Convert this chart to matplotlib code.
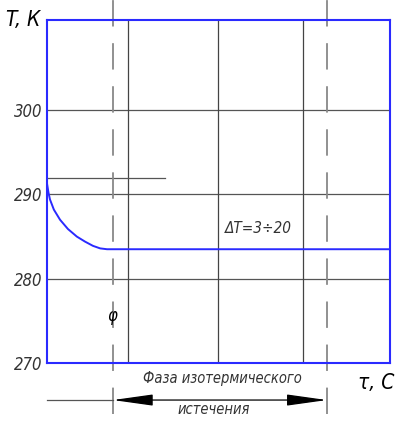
import matplotlib
matplotlib.use("Agg")
import matplotlib.pyplot as plt

# ----------------------------------------------------------------------
# Data (time axis in arbitrary units 0..100)
# ----------------------------------------------------------------------
curve_t = [0.0, 0.44, 0.87, 2.0, 3.8, 6.1, 8.7, 11.1, 13.4, 15.5, 17.5, 100.0]
curve_T = [291.3, 290.2, 289.4, 288.2, 287.0, 285.9, 285.0, 284.4, 283.9, 283.6, 283.5, 283.5]

grid_T = [280, 290, 300]
yticks = [270, 280, 290, 300]
solid_t = [23.6, 49.9, 74.6]
dashed_t = [19.2, 81.6]
short_T = 292.0
short_t_end = 34.4

BLUE = "#2a2aff"
GRAY = "#555555"

plt.rcParams["font.family"] = ["Liberation Sans Narrow", "DejaVu Sans"]
plt.rcParams["font.stretch"] = "condensed"
plt.rcParams["lines.scale_dashes"] = False

fig = plt.figure(figsize=(4.06, 4.25), dpi=100)
ax = fig.add_axes([47 / 406, 62 / 425, 343 / 406, 343 / 425])
ax.set_xlim(0, 100)
ax.set_ylim(270, 310.7)

for s in ax.spines.values():
    s.set_color(BLUE)
    s.set_linewidth(1.5)

ax.set_xticks([])
ax.set_yticks(yticks)
ax.set_yticklabels([str(v) for v in yticks], fontsize=12, style="italic", color="#333333")
ax.tick_params(axis="y", length=0, pad=3)

# grid
for T in grid_T:
    ax.axhline(T, color=GRAY, lw=0.9)
for t in solid_t:
    ax.axvline(t, color="#444444", lw=0.9)
ax.plot([0, short_t_end], [short_T, short_T], color=GRAY, lw=0.9)

# dash-dot construction lines, extend beyond the box
for t in dashed_t:
    ax.axvline(t, ymin=-0.15, ymax=1.06, color="#888888", lw=1.3,
               linestyle=(0, (19, 12)), clip_on=False)

# temperature curve
ax.plot(curve_t, curve_T, color=BLUE, lw=1.4)

# labels
ax.text(-0.12, 1.0, "T, К", transform=ax.transAxes, fontsize=15, style="italic",
        ha="left", va="center")
ax.text(0.96, -0.058, "τ, С", transform=ax.transAxes, fontsize=15, style="italic",
        ha="center", va="center")
ax.text(19.0, 275.6, "φ", fontsize=12, style="italic", ha="center", va="center")
ax.text(61.5, 286.0, "ΔT=3÷20", fontsize=11, style="italic", ha="center", va="center",
        color="#333333")
ax.text(51, -0.045, "Фаза изотермического", transform=ax.get_xaxis_transform(),
        fontsize=10.5, style="italic", ha="center", va="center", color="#333333")
ax.text(48.5, -0.137, "истечения", transform=ax.get_xaxis_transform(),
        fontsize=10.5, style="italic", ha="center", va="center", color="#333333")

# dimension arrow
ya = -0.108
ax.plot([0, dashed_t[0]], [ya, ya], color=GRAY, lw=0.9,
        transform=ax.get_xaxis_transform(), clip_on=False)
ax.annotate("", xy=(dashed_t[1], ya), xytext=(dashed_t[0], ya),
            xycoords=ax.get_xaxis_transform(), textcoords=ax.get_xaxis_transform(),
            arrowprops=dict(arrowstyle="<|-|>,head_length=2.5,head_width=0.35",
                            color="black", lw=0.9, shrinkA=0, shrinkB=0),
            annotation_clip=False)

fig.savefig("out.png", dpi=100)
